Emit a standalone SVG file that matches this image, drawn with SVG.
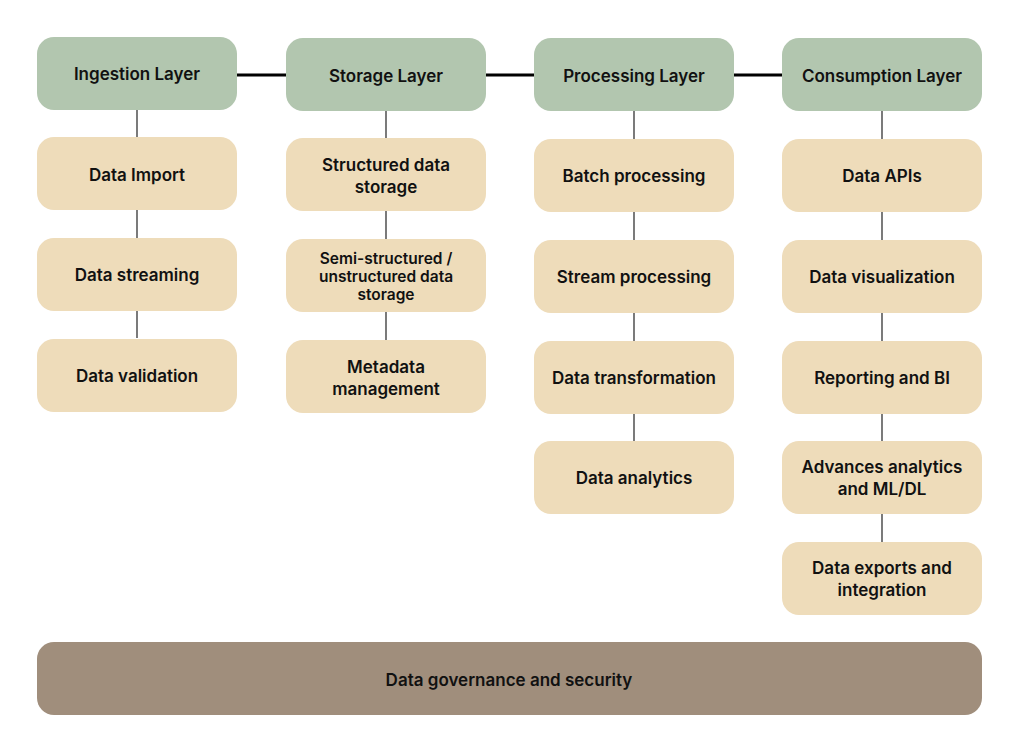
<svg xmlns="http://www.w3.org/2000/svg" width="1019" height="753" viewBox="0 0 1019 753">
<style>
.h{fill:#B2C6AF}
.i{fill:#EEDCBA}
.g{fill:#A08E7C}
text{font-family:Inter,"Liberation Sans",sans-serif;font-weight:600;font-size:17px;fill:#111;text-anchor:middle;dominant-baseline:central}
.s{font-size:15.5px}
.c line{stroke:#222}
.c .t{stroke:#000;stroke-width:3}
.c .v{stroke-width:1.2}
</style>
<rect width="1019" height="753" fill="#fff"/>
<g class="c" id="connectors">
<line class="t" x1="237" y1="75" x2="286" y2="75"/>
<line class="t" x1="485" y1="75" x2="534" y2="75"/>
<line class="t" x1="734" y1="75" x2="782" y2="75"/>
<line class="v" x1="137" y1="110" x2="137" y2="338"/>
<line class="v" x1="386" y1="111" x2="386" y2="340"/>
<line class="v" x1="634" y1="111" x2="634" y2="441"/>
<line class="v" x1="882" y1="111" x2="882" y2="542"/>
</g>
<g id="ingestion"><rect class="h" x="37" y="37" width="200" height="73" rx="17"/><text x="137" y="74">Ingestion Layer</text></g>
<g id="data-import"><rect class="i" x="37" y="137" width="200" height="73" rx="17"/><text x="137" y="175">Data Import</text></g>
<g id="data-streaming"><rect class="i" x="37" y="238" width="200" height="73" rx="17"/><text x="137" y="275">Data streaming</text></g>
<g id="data-validation"><rect class="i" x="37" y="339" width="200" height="73" rx="17"/><text x="137" y="376">Data validation</text></g>

<g id="storage"><rect class="h" x="286" y="38" width="200" height="73" rx="17"/><text x="386" y="76">Storage Layer</text></g>
<g id="structured"><rect class="i" x="286" y="138" width="200" height="73" rx="17"/><text x="386" y="165">Structured data</text><text x="386" y="187">storage</text></g>
<g id="semi"><rect class="i" x="286" y="239" width="200" height="73" rx="17"/><text class="s" x="386" y="258">Semi-structured /</text><text class="s" x="386" y="276">unstructured data</text><text class="s" x="386" y="294">storage</text></g>
<g id="metadata"><rect class="i" x="286" y="340" width="200" height="73" rx="17"/><text x="386" y="367">Metadata</text><text x="386" y="389">management</text></g>

<g id="processing"><rect class="h" x="534" y="38" width="200" height="73" rx="17"/><text x="634" y="76">Processing Layer</text></g>
<g id="batch"><rect class="i" x="534" y="139" width="200" height="73" rx="17"/><text x="634" y="176">Batch processing</text></g>
<g id="stream"><rect class="i" x="534" y="240" width="200" height="73" rx="17"/><text x="634" y="277">Stream processing</text></g>
<g id="transform"><rect class="i" x="534" y="341" width="200" height="73" rx="17"/><text x="634" y="378">Data transformation</text></g>
<g id="analytics"><rect class="i" x="534" y="441" width="200" height="73" rx="17"/><text x="634" y="478">Data analytics</text></g>

<g id="consumption"><rect class="h" x="782" y="38" width="200" height="73" rx="17"/><text x="882" y="76">Consumption Layer</text></g>
<g id="apis"><rect class="i" x="782" y="139" width="200" height="73" rx="17"/><text x="882" y="176">Data APIs</text></g>
<g id="viz"><rect class="i" x="782" y="240" width="200" height="73" rx="17"/><text x="882" y="277">Data visualization</text></g>
<g id="bi"><rect class="i" x="782" y="341" width="200" height="73" rx="17"/><text x="882" y="378">Reporting and BI</text></g>
<g id="ml"><rect class="i" x="782" y="441" width="200" height="73" rx="17"/><text x="882" y="467">Advances analytics</text><text x="882" y="489">and ML/DL</text></g>
<g id="exports"><rect class="i" x="782" y="542" width="200" height="73" rx="17"/><text x="882" y="568">Data exports and</text><text x="882" y="590">integration</text></g>

<g id="governance"><rect class="g" x="37" y="642" width="945" height="73" rx="17"/><text x="509" y="680">Data governance and security</text></g>
</svg>
